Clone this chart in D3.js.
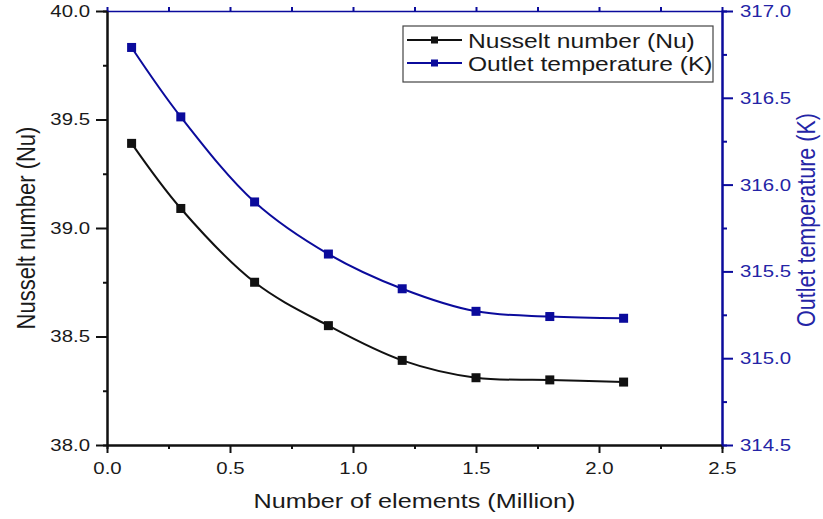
<!DOCTYPE html>
<html>
<head>
<meta charset="utf-8">
<script src="https://cdn.jsdelivr.net/npm/d3@7"></script>
<style>
  body { margin: 0; background: #fff; }
  text { font-family: "Liberation Sans", Arial, sans-serif; }
</style>
</head>
<body>
<div id="chart"></div>
<script>
// data
const elements = [0.1, 0.3, 0.6, 0.9, 1.2, 1.5, 1.8, 2.1]
const nusselt = [39.39, 39.09, 38.75, 38.55, 38.39, 38.31, 38.30, 38.29]
const outletTemp = [316.79, 316.39, 315.90, 315.60, 315.40, 315.27, 315.24, 315.23]
const xTicks = [0.0, 0.5, 1.0, 1.5, 2.0, 2.5]
const nuTicks = [38.0, 38.5, 39.0, 39.5, 40.0]
const tTicks = [314.5, 315.0, 315.5, 316.0, 316.5, 317.0]
const seriesNames = ["Nusselt number (Nu)", "Outlet temperature (K)"]

const width = 823, height = 519
const margin = { top: 11, right: 101, bottom: 74, left: 107 }
const plotW = width - margin.left - margin.right
const plotH = height - margin.top - margin.bottom
const blue = "#0b0b9c"
const blueText = "#2424a6"
const sx = 1.2 // horizontal stretch of the original picture

const svg = d3.select("#chart").append("svg")
    .attr("width", width)
    .attr("height", height)

const chart = svg.append("g")
    .attr("transform", `translate(${margin.left},${margin.top})`)

const xScale = d3.scaleLinear().domain([0, 2.5]).range([0, plotW])
const yNu = d3.scaleLinear().domain([38, 40]).range([plotH, 0])
const yT = d3.scaleLinear().domain([314.5, 317]).range([plotH, 0])

function minors(ticks) {
    const out = []
    for (let i = 0; i < ticks.length - 1; i++) out.push((ticks[i] + ticks[i + 1]) / 2)
    return out
}

function stretch(sel) {
    sel.each(function () {
        const t = d3.select(this)
        const x = +t.attr("x") || 0
        const y = +t.attr("y") || 0
        t.attr("x", 0).attr("y", 0)
            .attr("transform", `translate(${x},${y}) scale(${sx},1)`)
    })
}

function styleAxis(g, color, textColor, size) {
    g.select(".domain").attr("stroke", color).attr("stroke-width", 2)
    g.selectAll(".tick line").attr("stroke", color).attr("stroke-width", 2)
    g.selectAll(".tick text").attr("fill", textColor).style("font-size", size + "px")
}

// minor ticks
chart.append("g").attr("transform", `translate(0,${plotH})`)
    .call(d3.axisBottom(xScale).tickValues(minors(xTicks)).tickSize(4).tickFormat(""))
    .call(g => styleAxis(g, "#111", "#111", 17))
chart.append("g")
    .call(d3.axisLeft(yNu).tickValues(minors(nuTicks)).tickSize(4).tickFormat(""))
    .call(g => styleAxis(g, "#111", "#111", 17))
chart.append("g").attr("transform", `translate(${plotW},0)`)
    .call(d3.axisRight(yT).tickValues(minors(tTicks)).tickSize(5).tickFormat(""))
    .call(g => styleAxis(g, blue, blueText, 17))
chart.append("g")
    .call(d3.axisBottom(xScale).tickValues(minors(xTicks).concat(xTicks)).tickSize(-4).tickSizeOuter(0).tickFormat(""))
    .call(g => styleAxis(g, blue, blue, 17))
    .call(g => g.select(".domain").attr("stroke-width", 1.5))

// major axes
chart.append("g").attr("transform", `translate(0,${plotH})`)
    .call(d3.axisBottom(xScale).tickValues(xTicks).tickSize(8).tickSizeOuter(0).tickPadding(9).tickFormat(d3.format(".1f")))
    .call(g => styleAxis(g, "#111", "#1a1a1a", 17))
    .call(g => stretch(g.selectAll(".tick text")))

chart.append("g")
    .call(d3.axisLeft(yNu).tickValues(nuTicks).tickSize(11).tickSizeOuter(0).tickPadding(6).tickFormat(d3.format(".1f")))
    .call(g => styleAxis(g, "#111", "#1a1a1a", 17))
    .call(g => stretch(g.selectAll(".tick text")))

chart.append("g").attr("transform", `translate(${plotW},0)`)
    .call(d3.axisRight(yT).tickValues(tTicks).tickSize(11).tickSizeOuter(0).tickPadding(7).tickFormat(d3.format(".1f")))
    .call(g => styleAxis(g, blue, blueText, 17))
    .call(g => stretch(g.selectAll(".tick text")))

// axis titles
svg.append("text")
    .attr("transform", `translate(${margin.left + plotW / 2},508) scale(${sx},1)`)
    .attr("text-anchor", "middle")
    .style("font-size", "21px")
    .attr("fill", "#1a1a1a")
    .text("Number of elements (Million)")

svg.append("text")
    .attr("transform", `translate(35,228) scale(${sx},1) rotate(-90)`)
    .attr("text-anchor", "middle")
    .style("font-size", "22px")
    .attr("fill", "#1a1a1a")
    .text("Nusselt number (Nu)")

svg.append("text")
    .attr("transform", `translate(815,220) scale(${sx},1) rotate(-90)`)
    .attr("text-anchor", "middle")
    .style("font-size", "21.5px")
    .attr("fill", blueText)
    .text("Outlet temperature (K)")

// series
const nuData = elements.map((x, i) => ({ x: x, y: nusselt[i] }))
const tData = elements.map((x, i) => ({ x: x, y: outletTemp[i] }))

const series = [
    { data: nuData, y: yNu, color: "#111" },
    { data: tData, y: yT, color: blue }
]

series.forEach(function (s) {
    const line = d3.line()
        .x(d => xScale(d.x))
        .y(d => s.y(d.y))
        .curve(d3.curveCatmullRom.alpha(0.5))
    chart.append("path")
        .datum(s.data)
        .attr("fill", "none")
        .attr("stroke", s.color)
        .attr("stroke-width", 2)
        .attr("d", line)
    chart.selectAll(null)
        .data(s.data)
        .join("rect")
            .attr("x", d => xScale(d.x) - 4.5)
            .attr("y", d => s.y(d.y) - 4.5)
            .attr("width", 9)
            .attr("height", 9)
            .attr("fill", s.color)
})

// legend
const legend = svg.append("g").attr("transform", "translate(403,26)")
legend.append("rect")
    .attr("width", 310)
    .attr("height", 56)
    .attr("fill", "#fff")
    .attr("stroke", "#444")
    .attr("stroke-width", 1.2)

seriesNames.forEach(function (name, i) {
    const row = legend.append("g").attr("transform", `translate(0,${14 + i * 23})`)
    row.append("line")
        .attr("x1", 4).attr("x2", 59)
        .attr("stroke", series[i].color)
        .attr("stroke-width", 2)
    row.append("rect")
        .attr("x", 28).attr("y", -3.5)
        .attr("width", 7).attr("height", 7)
        .attr("fill", series[i].color)
    row.append("text")
        .attr("transform", `translate(65,7.5) scale(${sx},1)`)
        .style("font-size", "20.5px")
        .attr("fill", "#1a1a1a")
        .text(name)
})
</script>
</body>
</html>
